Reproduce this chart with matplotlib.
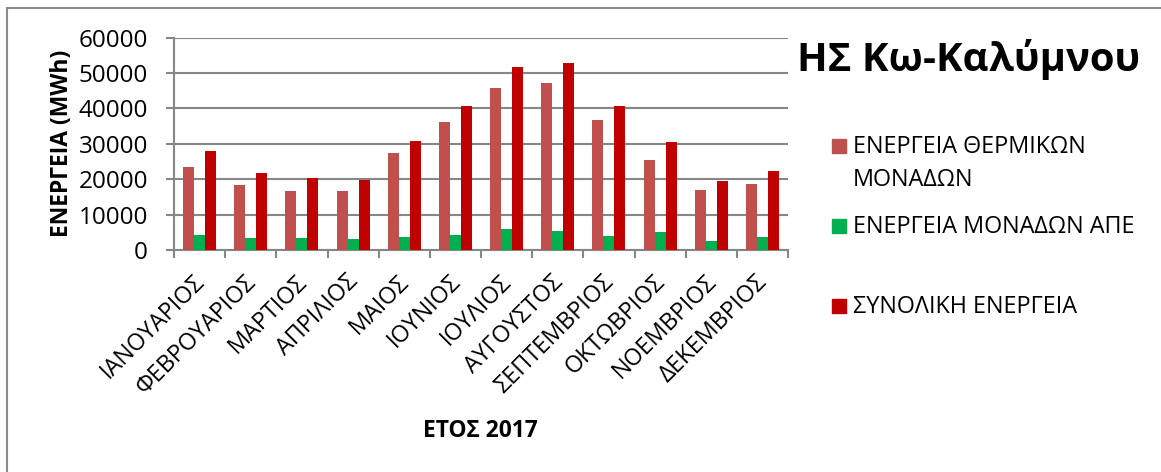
import numpy as np
import matplotlib.pyplot as plt
from matplotlib.patches import Rectangle
from matplotlib.lines import Line2D
from matplotlib.transforms import ScaledTranslation

plt.rcParams['font.family'] = ['Open Sans', 'DejaVu Sans']

# data (MWh)
months = ['ΙΑΝΟΥΑΡΙΟΣ', 'ΦΕΒΡΟΥΑΡΙΟΣ', 'ΜΑΡΤΙΟΣ', 'ΑΠΡΙΛΙΟΣ', 'ΜΑΙΟΣ', 'ΙΟΥΝΙΟΣ',
          'ΙΟΥΛΙΟΣ', 'ΑΥΓΟΥΣΤΟΣ', 'ΣΕΠΤΕΜΒΡΙΟΣ', 'ΟΚΤΩΒΡΙΟΣ', 'ΝΟΕΜΒΡΙΟΣ', 'ΔΕΚΕΜΒΡΙΟΣ']
thermal = [23500, 18300, 16800, 16600, 27500, 36300, 45750, 47250, 36800, 25400, 17000, 18650]
res = [4200, 3300, 3300, 3000, 3600, 4200, 5800, 5500, 3850, 5000, 2450, 3650]
total = [27900, 21700, 20250, 19900, 30800, 40600, 51750, 52900, 40700, 30500, 19500, 22400]

series = [thermal, res, total]
names = ['ΕΝΕΡΓΕΙΑ ΘΕΡΜΙΚΩΝ\nΜΟΝΑΔΩΝ', 'ΕΝΕΡΓΕΙΑ ΜΟΝΑΔΩΝ ΑΠΕ', 'ΣΥΝΟΛΙΚΗ ΕΝΕΡΓΕΙΑ']
colors = ['#C0504D', '#00B050', '#C00000']

W, H = 1161, 472
fig = plt.figure(figsize=(W / 100, H / 100), dpi=100)
ax = fig.add_axes([174 / W, 1 - 250 / H, 614 / W, 212.3 / H])

x = np.arange(len(months))
w = 0.214
for i, (vals, c) in enumerate(zip(series, colors)):
    ax.bar(x + (i - 1) * w, vals, width=w, color=c, zorder=3)

ax.set_xlim(-0.5, len(months) - 0.5)
ax.set_ylim(0, 60000)
ax.set_yticks(np.arange(0, 60001, 10000))
ax.yaxis.grid(True, color='#868686', linewidth=1.5, zorder=0)
ax.set_xticks(np.arange(-0.5, len(months) + 0.5, 1))
ax.set_xticklabels([])

# month labels, placed like excel does (a bit right of and below the centre)
lab_trans = ax.get_xaxis_transform() + ScaledTranslation(-0.07, -0.20, fig.dpi_scale_trans)
for xi, m in zip(x, months):
    ax.text(xi, 0, m, transform=lab_trans, rotation=45, rotation_mode='anchor',
            ha='right', va='top', fontsize=16.8, clip_on=False)

ax.tick_params(axis='x', length=6, width=1.5, color='#868686')
ax.tick_params(axis='y', length=5.8, width=1.5, color='#868686', labelsize=17.5, pad=13)
for s in ['top', 'right']:
    ax.spines[s].set_visible(False)
for s in ['left', 'bottom']:
    ax.spines[s].set_color('#868686')
    ax.spines[s].set_linewidth(1.5)

ax.set_ylabel('ΕΝΕΡΓΕΙΑ (MWh)', fontsize=16.5, fontweight='bold', labelpad=3)
fig.text(480 / W, 1 - 437 / H, 'ΕΤΟΣ 2017', fontsize=16.4, fontweight='bold',
         ha='center', va='baseline')

fig.text(969 / W, 1 - 71.5 / H, 'ΗΣ Κω-Καλύμνου', fontsize=28.8, fontweight='bold',
         ha='center', va='baseline')

# legend
baselines = [153, 233, 313]
for name, c, yb in zip(names, colors, baselines):
    fig.patches.append(Rectangle((832 / W, 1 - (yb - 0.5) / H), 14 / W, 14 / H,
                                 transform=fig.transFigure, color=c))
    for k, line in enumerate(name.split('\n')):
        fig.text(853 / W, 1 - (yb + 33.4 * k) / H, line, fontsize=16.8,
                 ha='left', va='baseline')

# chart border (cropped at right and bottom)
fig.add_artist(Line2D([7 / W, 7 / W], [0, 1 - 8 / H], transform=fig.transFigure,
                      color='#8c8c8c', linewidth=1.5))
fig.add_artist(Line2D([7 / W, 1], [1 - 8 / H, 1 - 8 / H], transform=fig.transFigure,
                      color='#8c8c8c', linewidth=1.5))

fig.savefig('out.png', dpi=100)
